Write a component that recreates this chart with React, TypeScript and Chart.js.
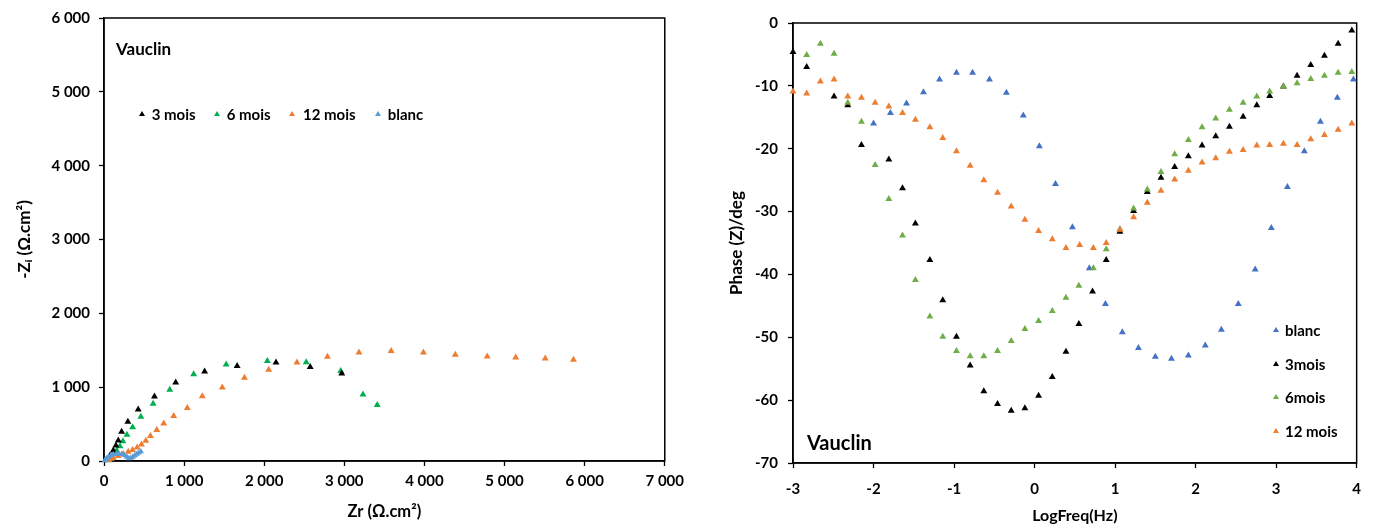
import React, { useEffect, useRef } from 'react';
import { Chart, registerables } from 'chart.js';

Chart.register(...registerables);

// ---------- Left chart (Nyquist) : [Zr, -Zi] ----------
const nyq3mois: [number, number][] = [
  [30, 20], [75, 74], [116, 142], [149, 209], [178, 277], [220, 396], [298, 531], [427, 699],
  [630, 874], [895, 1063], [1256, 1212], [1662, 1288], [2147, 1333], [2574, 1274], [2968, 1185],
];
const nyq6mois: [number, number][] = [
  [60, 10], [100, 50], [130, 95], [158, 142], [199, 200], [236, 268], [286, 354], [357, 457],
  [460, 599], [613, 774], [821, 964], [1119, 1176], [1525, 1307], [2039, 1355], [2524, 1338],
  [2955, 1220], [3233, 901], [3411, 757],
];
const nyq12mois: [number, number][] = [
  [60, 15], [90, 30], [116, 45], [178, 68], [240, 95], [302, 126], [357, 149], [414, 184],
  [468, 225], [522, 274], [580, 338], [659, 419], [746, 509], [870, 611], [1040, 719],
  [1227, 878], [1476, 997], [1753, 1128], [2056, 1236], [2408, 1335], [2789, 1412],
  [3183, 1470], [3584, 1489], [3987, 1470], [4385, 1439], [4783, 1416], [5139, 1403],
  [5508, 1389], [5860, 1372],
];
const nyqBlanc: [number, number][] = [
  [10, 8], [30, 30], [55, 55], [85, 75], [115, 88], [150, 95], [185, 96], [220, 92], [255, 78],
  [285, 55], [310, 35], [335, 40], [360, 55], [385, 75], [410, 95], [435, 112], [460, 128],
];

// ---------- Right chart (Bode phase) : [LogFreq, Phase] ----------
const phase3mois: [number, number][] = [
  [-3.0, -4.6], [-2.83, -7.0], [-2.49, -11.7], [-2.32, -13.1], [-2.15, -19.4], [-1.81, -21.7],
  [-1.64, -26.3], [-1.48, -31.9], [-1.3, -37.7], [-1.14, -44.1], [-0.97, -49.9], [-0.8, -54.5],
  [-0.63, -58.6], [-0.46, -60.6], [-0.29, -61.7], [-0.12, -61.3], [0.05, -59.3], [0.22, -56.3],
  [0.39, -52.3], [0.55, -47.9], [0.72, -42.7], [0.89, -37.7], [1.06, -33.2], [1.23, -29.9],
  [1.4, -26.9], [1.57, -24.6], [1.74, -22.9], [1.91, -21.2], [2.08, -19.5], [2.25, -18.0],
  [2.42, -16.5], [2.59, -14.9], [2.76, -13.1], [2.92, -11.6], [3.09, -10.1], [3.26, -8.4],
  [3.43, -6.7], [3.6, -5.2], [3.77, -3.3], [3.94, -1.2],
];
const phase6mois: [number, number][] = [
  [-2.83, -5.1], [-2.66, -3.3], [-2.49, -4.9], [-2.32, -12.7], [-2.15, -15.7], [-1.98, -22.6],
  [-1.81, -28.0], [-1.64, -33.8], [-1.48, -40.9], [-1.3, -46.7], [-1.14, -49.9], [-0.97, -52.2],
  [-0.8, -53.0], [-0.63, -53.0], [-0.46, -52.2], [-0.29, -50.6], [-0.12, -48.7], [0.05, -47.4],
  [0.22, -45.8], [0.39, -43.7], [0.55, -41.8], [0.73, -39.0], [0.89, -36.0], [1.06, -32.8],
  [1.23, -29.5], [1.4, -26.5], [1.57, -23.7], [1.74, -20.9], [1.91, -18.6], [2.08, -16.6],
  [2.25, -15.2], [2.42, -13.8], [2.59, -12.7], [2.76, -11.7], [2.92, -10.9], [3.09, -10.1],
  [3.26, -9.6], [3.43, -8.9], [3.6, -8.4], [3.77, -7.9], [3.94, -7.8],
];
const phase12mois: [number, number][] = [
  [-3.0, -10.9], [-2.83, -11.2], [-2.66, -9.3], [-2.49, -9.0], [-2.32, -11.7], [-2.15, -11.9],
  [-1.98, -12.7], [-1.81, -13.3], [-1.64, -14.3], [-1.48, -15.4], [-1.3, -16.6], [-1.14, -18.3],
  [-0.97, -20.4], [-0.8, -22.7], [-0.63, -25.0], [-0.46, -27.0], [-0.29, -29.2], [-0.12, -31.3],
  [0.05, -33.1], [0.22, -34.4], [0.39, -35.8], [0.56, -35.3], [0.73, -35.8], [0.89, -35.0],
  [1.06, -32.9], [1.23, -30.9], [1.4, -28.6], [1.57, -26.7], [1.74, -24.9], [1.91, -23.5],
  [2.08, -22.2], [2.25, -21.5], [2.42, -20.5], [2.59, -20.2], [2.76, -19.5], [2.92, -19.4],
  [3.09, -19.2], [3.26, -19.4], [3.43, -18.5], [3.6, -17.8], [3.77, -17.0], [3.94, -16.0],
];
const phaseBlanc: [number, number][] = [
  [-2.0, -16.0], [-1.79, -14.3], [-1.59, -12.8], [-1.38, -11.0], [-1.18, -9.0], [-0.97, -7.9],
  [-0.77, -7.9], [-0.56, -9.0], [-0.35, -11.1], [-0.14, -14.7], [0.06, -19.6], [0.26, -25.6],
  [0.47, -32.5], [0.68, -39.0], [0.88, -44.7], [1.09, -49.2], [1.29, -51.7], [1.5, -53.1],
  [1.7, -53.4], [1.91, -52.9], [2.12, -51.3], [2.32, -48.8], [2.53, -44.7], [2.74, -39.2],
  [2.94, -32.6], [3.14, -26.1], [3.35, -20.4], [3.55, -15.7], [3.76, -11.9], [3.96, -9.0],
];

const leftLegend = ['3 mois', '6 mois', '12 mois', 'blanc'];
const leftColors = ['#000000', '#00B050', '#ED7D31', '#5B9BD5'];
const rightLegend = ['blanc', '3mois', '6mois', '12 mois'];
const rightColors = ['#4472C4', '#000000', '#70AD47', '#ED7D31'];

const FONT = 'Lato, "Open Sans", sans-serif';

const framePlugin = {
  id: 'frame',
  beforeDatasetsDraw(chart: any) {
    const { ctx, chartArea } = chart;
    const { left, top, right, bottom } = chartArea;
    ctx.save();
    ctx.strokeStyle = '#000';
    ctx.lineWidth = 1.5;
    ctx.strokeRect(left, top, right - left, bottom - top);
    ctx.restore();
  },
};

const fmtThousands = (v: any) => {
  const n = Math.round(Number(v));
  return String(n).replace(/\B(?=(\d{3})+(?!\d))/g, ' ');
};

function ds(label: string, data: [number, number][], color: string, r = 4) {
  return {
    label,
    data: data.map(([x, y]) => ({ x, y })),
    backgroundColor: color,
    borderColor: color,
    pointStyle: 'triangle',
    pointRadius: r,
    pointBorderWidth: 0,
    showLine: false,
    clip: false,
  };
}

function axis(opts: any) {
  return {
    type: 'linear',
    min: opts.min,
    max: opts.max,
    afterFit: opts.afterFit,
    ticks: {
      stepSize: opts.step,
      autoSkip: false,
      maxRotation: 0,
      padding: opts.tickPad,
      color: '#000',
      font: { family: FONT, weight: 'bold', size: 15 },
      callback: opts.cb,
    },
    grid: {
      display: true,
      drawOnChartArea: false,
      drawTicks: true,
      tickLength: 5,
      tickColor: '#000',
      tickWidth: 1.3,
    },
    border: { display: true, color: '#000', width: 1.5 },
    title: {
      display: true,
      text: opts.title,
      color: '#000',
      font: { family: FONT, weight: 'bold', size: opts.titleSize || 16 },
      padding: opts.titlePad,
    },
  };
}

function Tri({ x, y, color }: { x: number; y: number; color: string }) {
  return (
    <div
      style={{
        position: 'absolute',
        left: x - 3,
        top: y - 3,
        width: 0,
        height: 0,
        borderLeft: '3px solid transparent',
        borderRight: '3px solid transparent',
        borderBottom: `5px solid ${color}`,
      }}
    />
  );
}

function Label({ x, y, text, size }: { x: number; y: number; text: string; size: number }) {
  return (
    <div
      style={{
        position: 'absolute',
        left: x,
        top: y - size * 0.65,
        fontFamily: FONT,
        fontWeight: 'bold',
        fontSize: size,
        lineHeight: `${Math.round(size * 1.3)}px`,
        color: '#000',
        whiteSpace: 'nowrap',
      }}
    >
      {text}
    </div>
  );
}

export default function App() {
  const leftRef = useRef<HTMLCanvasElement | null>(null);
  const rightRef = useRef<HTMLCanvasElement | null>(null);

  useEffect(() => {
    const common = {
      responsive: false,
      animation: false,
      events: [],
      plugins: { legend: { display: false }, tooltip: { enabled: false } },
    };
    const left = new Chart(leftRef.current as HTMLCanvasElement, {
      type: 'scatter',
      data: {
        datasets: [
          ds('blanc', nyqBlanc, leftColors[3], 3.6),
          ds('12 mois', nyq12mois, leftColors[2]),
          ds('3 mois', nyq3mois, leftColors[0]),
          ds('6 mois', nyq6mois, leftColors[1]),
        ] as any,
      },
      options: {
        ...common,
        layout: { padding: { top: 17, right: 23, left: 0, bottom: 0 } },
        scales: {
          x: axis({
            min: 0, max: 7000, step: 1000, tickPad: 6, cb: fmtThousands,
            title: 'Zr (Ω.cm²)', titlePad: { top: 0, bottom: 4 }, titleSize: 16.5,
            afterFit: (s: any) => { s.height = 65; },
          }),
          y: axis({
            min: 0, max: 6000, step: 1000, tickPad: 9, cb: fmtThousands,
            title: '-Zᵢ (Ω.cm²)', titlePad: { top: 14.5, bottom: 0 }, titleSize: 17,
            afterFit: (s: any) => { s.width = 104; },
          }),
        },
      } as any,
      plugins: [framePlugin],
    });

    const right = new Chart(rightRef.current as HTMLCanvasElement, {
      type: 'scatter',
      data: {
        datasets: [
          ds('12 mois', phase12mois, rightColors[3]),
          ds('6mois', phase6mois, rightColors[2]),
          ds('3mois', phase3mois, rightColors[1]),
          ds('blanc', phaseBlanc, rightColors[0]),
        ] as any,
      },
      options: {
        ...common,
        layout: { padding: { top: 23, right: 14, left: 0, bottom: 0 } },
        scales: {
          x: axis({
            min: -3, max: 4, step: 1, tickPad: 12, cb: (v: any) => String(Math.round(Number(v))),
            title: 'LogFreq(Hz)', titlePad: { top: 0, bottom: 1 },
            afterFit: (s: any) => { s.height = 63; },
          }),
          y: axis({
            min: -70, max: 0, step: 10, tickPad: 10, cb: (v: any) => String(Math.round(Number(v))),
            title: 'Phase (Z)/deg', titlePad: { top: 36.5, bottom: 0 }, titleSize: 17,
            afterFit: (s: any) => { s.width = 103; },
          }),
        },
      } as any,
      plugins: [framePlugin],
    });

    return () => {
      left.destroy();
      right.destroy();
    };
  }, []);

  const leftMarkers = [141.7, 216.7, 291.7, 378];
  const leftTexts = [151.7, 226.7, 303, 387.7];
  const rightRows = [330, 363.7, 396.7, 431];

  return (
    <div style={{ position: 'absolute', left: 0, top: 0, width: 1373, height: 526, background: '#fff' }}>
      <canvas ref={leftRef} width={690} height={526} style={{ position: 'absolute', left: 0, top: 0, display: 'block' }} />
      <canvas ref={rightRef} width={683} height={526} style={{ position: 'absolute', left: 690, top: 0, display: 'block' }} />
      <Label x={116} y={49} text="Vauclin" size={17} />
      {leftLegend.map((t, i) => (
        <React.Fragment key={t}>
          <Tri x={leftMarkers[i]} y={113.7} color={leftColors[i]} />
          <Label x={leftTexts[i]} y={113.7} text={t} size={15} />
        </React.Fragment>
      ))}
      <Label x={807} y={442} text="Vauclin" size={20} />
      {rightLegend.map((t, i) => (
        <React.Fragment key={t}>
          <Tri x={1276} y={rightRows[i]} color={rightColors[i]} />
          <Label x={1285} y={rightRows[i]} text={t} size={15} />
        </React.Fragment>
      ))}
    </div>
  );
}
